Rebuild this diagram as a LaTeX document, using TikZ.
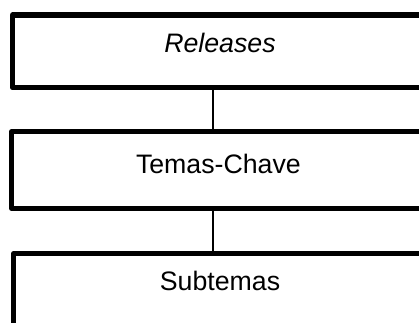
\documentclass[tikz,border=0pt]{standalone}
\usepackage{fontspec}
\setmainfont{Liberation Sans}
\begin{document}
\begin{tikzpicture}[
    levelbox/.style={draw, line width=3.8pt, line join=round, outer sep=0pt,
                     minimum width=11cm, anchor=north west},
    leveltext/.style={anchor=base, inner sep=0pt, font=\fontsize{19}{23}\selectfont},
    stemline/.style={line width=0.9pt}
  ]
  \clip (0,0) rectangle (10.475,-8.050);

  % Drawing box Releases
  \node [levelbox, minimum height=1.8125cm] (releases) at (0.3125,-0.375) {};
  \node [leveltext] (releasestext) at (5.500,-1.3075) {\itshape Releases};

  % Drawing box Temas-Chave
  \node [levelbox, minimum height=1.9125cm] (temas) at (0.2875,-3.295) {};
  \node [leveltext] (temastext) at (5.460,-4.3325) {Temas-Chave};

  % Drawing box Subtemas
  \node [levelbox, minimum height=3.000cm] (subtemas) at (0.3375,-6.345) {};
  \node [leveltext] (subtemastext) at (5.500,-7.2675) {Subtemas};

  % Drawing stems between levels
  \coordinate (stem) at (5.325,0);
  \draw [stemline] (releases.south -| stem) -- (temas.north -| stem);
  \draw [stemline] (temas.south -| stem) -- (subtemas.north -| stem);
\end{tikzpicture}
\end{document}
